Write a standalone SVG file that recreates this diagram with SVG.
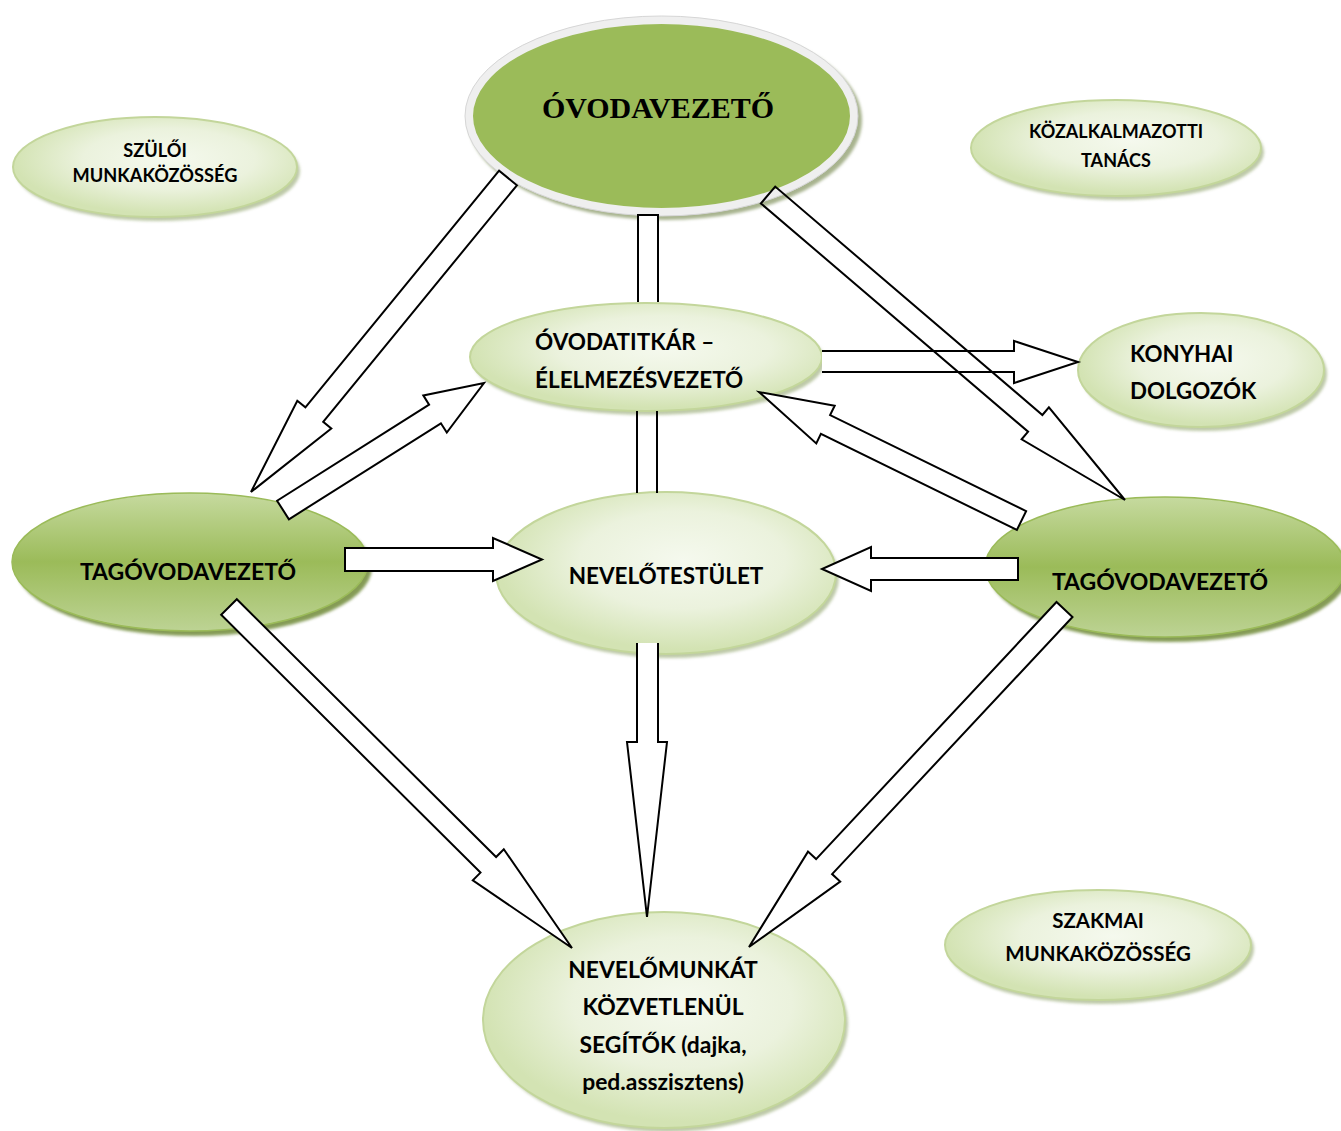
<svg xmlns="http://www.w3.org/2000/svg" width="1341" height="1131" viewBox="0 0 1341 1131">
<defs>
<radialGradient id="pale" cx="55%" cy="42%" r="55%">
<stop offset="0" stop-color="#f5f9ee"/>
<stop offset="0.55" stop-color="#ebf2dd"/>
<stop offset="1" stop-color="#d3e3b3"/>
</radialGradient>
<linearGradient id="dark" x1="0" y1="0" x2="0" y2="1">
<stop offset="0" stop-color="#c6da9f"/>
<stop offset="0.5" stop-color="#9bbb59"/>
<stop offset="1" stop-color="#bdd394"/>
</linearGradient>
<filter id="blur" x="-10%" y="-10%" width="120%" height="120%">
<feGaussianBlur stdDeviation="1.5"/>
</filter>
</defs>
<style>
.pale{fill:url(#pale);stroke:#c3d69b;stroke-width:2}
.paleSh{fill:#a7b78a;opacity:0.75;filter:url(#blur)}
.dark{fill:url(#dark);stroke:#9bbb59;stroke-width:1.5}
.darkSh{fill:#6f8a38;opacity:0.85;filter:url(#blur)}
.t{font-family:Lato,"Open Sans","Liberation Sans",sans-serif;font-weight:bold;fill:#000}
.m{text-anchor:middle}
.arr{fill:#fff;stroke:#000;stroke-width:2;stroke-linejoin:miter}
.arrN{fill:none;stroke:#000;stroke-width:2;stroke-linejoin:miter}
</style>
<rect width="1341" height="1131" fill="#fff"/>

<g id="ovodavezeto">
<ellipse cx="665" cy="120" rx="197" ry="100" fill="#a8b48f" filter="url(#blur)"/>
<ellipse cx="661.5" cy="116" rx="192.5" ry="96" fill="#9bbb59" stroke="#efefef" stroke-width="8"/>
<ellipse cx="661.5" cy="116" rx="196.5" ry="100" fill="none" stroke="#d6d6d6" stroke-width="1"/>
<text x="658" y="118" font-family="'Liberation Serif','Times New Roman',serif" font-weight="bold" font-size="30" text-anchor="middle">ÓVODAVEZETŐ</text>
</g>

<g id="szuloi">
<ellipse class="paleSh" cx="158" cy="171" rx="142" ry="50"/>
<ellipse class="pale" cx="155" cy="167" rx="142" ry="50"/>
<text class="t m" x="155" y="157" font-size="18.2">SZÜLŐI</text>
<text class="t m" x="155" y="182" font-size="18.2">MUNKAKÖZÖSSÉG</text>
</g>

<g id="kozalkalmazotti">
<ellipse class="paleSh" cx="1119" cy="152" rx="145" ry="48"/>
<ellipse class="pale" cx="1116" cy="148" rx="145" ry="48"/>
<text class="t m" x="1116" y="138" font-size="18">KÖZALKALMAZOTTI</text>
<text class="t m" x="1116" y="167" font-size="18">TANÁCS</text>
</g>

<g id="titkar">
<ellipse class="paleSh" cx="649" cy="361" rx="176" ry="54"/>
<ellipse class="pale" cx="646" cy="357" rx="176" ry="54"/>
<text class="t" x="535" y="350" font-size="22.5">ÓVODATITKÁR –</text>
<text class="t" x="535" y="388" font-size="22.5">ÉLELMEZÉSVEZETŐ</text>
</g>

<g id="konyhai">
<ellipse class="paleSh" cx="1204" cy="374" rx="123" ry="57"/>
<ellipse class="pale" cx="1201" cy="370" rx="123" ry="57"/>
<text class="t" x="1130" y="362" font-size="22.3">KONYHAI</text>
<text class="t" x="1130" y="399" font-size="22.3">DOLGOZÓK</text>
</g>

<g id="tagovoda-bal">
<ellipse class="darkSh" cx="194" cy="567" rx="178" ry="69"/>
<ellipse class="dark" cx="190" cy="562" rx="178" ry="69"/>
<text class="t m" x="188" y="580" font-size="23">TAGÓVODAVEZETŐ</text>
</g>

<g id="nevelotestulet">
<ellipse class="paleSh" cx="669" cy="577" rx="170" ry="81"/>
<ellipse class="pale" cx="666" cy="573" rx="170" ry="81"/>
<text class="t m" x="666" y="584" font-size="22.5">NEVELŐTESTÜLET</text>
</g>

<g id="tagovoda-jobb">
<ellipse class="darkSh" cx="1169" cy="572" rx="180" ry="70"/>
<ellipse class="dark" cx="1165" cy="567" rx="180" ry="70"/>
<text class="t m" x="1160" y="590" font-size="23">TAGÓVODAVEZETŐ</text>
</g>

<g id="szakmai">
<ellipse class="paleSh" cx="1101" cy="949" rx="153" ry="55"/>
<ellipse class="pale" cx="1098" cy="945" rx="153" ry="55"/>
<text class="t m" x="1098" y="928" font-size="20.5">SZAKMAI</text>
<text class="t m" x="1098" y="961" font-size="20.5">MUNKAKÖZÖSSÉG</text>
</g>

<g id="segitok">
<ellipse class="paleSh" cx="667" cy="1024" rx="181" ry="108"/>
<ellipse class="pale" cx="664" cy="1020" rx="181" ry="108"/>
<text class="t m" x="663" y="978" font-size="22.9">NEVELŐMUNKÁT</text>
<text class="t m" x="663" y="1015" font-size="22.9">KÖZVETLENÜL</text>
<text class="t m" x="663" y="1053" font-size="22.9">SEGÍTŐK (dajka,</text>
<text class="t m" x="663" y="1090" font-size="22.9">ped.asszisztens)</text>
</g>

<g id="connectors">
<path class="arr" d="M638,302 L638,215 L658,215 L658,302"/>
<path class="arr" d="M637,411 L637,493 M657,493 L657,411"/>
<path class="arr" d="M822,351 L1014,351 L1014,341 L1078,362 L1014,383 L1014,372 L822,372"/>
<polygon class="arr" points="499.1,170.7 305.4,407.3 297.3,400.7 251,492 331.3,428.5 323.2,421.9 516.9,185.3"/>
<polygon class="arrN" points="760.9,203.4 1028.1,431.7 1021.6,439.3 1125,500 1048.9,407.4 1042.4,415.0 775.2,186.6"/>
<polygon class="arr" points="1026.1,511.1 830.1,415.1 834.7,405.7 759,392 816.3,443.4 820.9,433.9 1016.9,529.9"/>
<polygon class="arr" points="288.9,519.3 440.9,423.3 446.8,432.6 484,383 423.3,395.4 429.1,404.7 277.1,500.7"/>
<polygon class="arr" points="345,548 493,548 493,538 542,559.5 493,581 493,571 345,571"/>
<polygon class="arr" points="1018,558 871,558 871,547 822,569 871,591 871,580 1018,580"/>
<path class="arr" d="M637,643 L637,742 L627,742 L647,917 L667,742 L658,742 L658,643"/>
<polygon class="arr" points="221.2,614.8 480.5,872.6 472.8,880.4 572,948 503.8,849.2 496.1,857.0 236.8,599.2"/>
<polygon class="arr" points="1056.5,602.0 816.1,859.1 808.0,851.6 749,947 840.2,881.6 832.1,874.1 1072.5,617.0"/>
</g>
</svg>
